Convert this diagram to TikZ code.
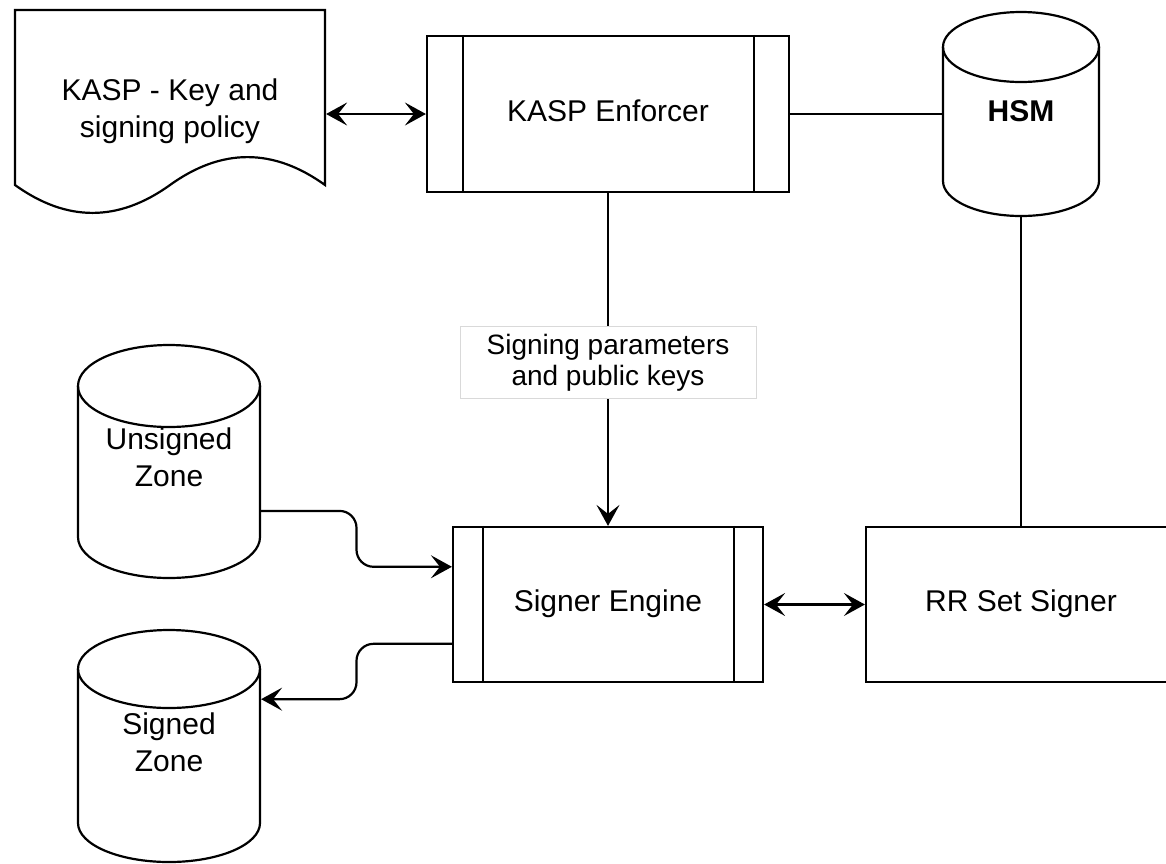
\documentclass[tikz,border=0pt]{standalone}
\usepackage{fontspec}
\setmainfont{Liberation Sans}
\usetikzlibrary{arrows.meta,calc}

% text sizes (1pt = one unit of the drawing)
\newcommand\mainsize{\fontsize{30pt}{37pt}\selectfont}
\newcommand\lblsize{\fontsize{28pt}{31pt}\selectfont}

% database cylinder: left, right, top, bottom, vertical radius of the caps
\newcommand\cylshape[5]{%
  \pgfmathsetmacro\cylrx{(#2-#1)/2}%
  \draw[fill=white] (#1,#3+#5) -- (#1,#4-#5)
    arc[start angle=180,end angle=0,x radius=\cylrx,y radius=#5]
    -- (#2,#3+#5)
    arc[start angle=0,end angle=-180,x radius=\cylrx,y radius=#5] -- cycle;
  \draw (#1,#3+#5) arc[start angle=180,end angle=0,x radius=\cylrx,y radius=#5];
}

\begin{document}
\begin{tikzpicture}[x=1pt,y=-1pt,line width=2.2pt,
  >={Stealth[length=21pt,width=23pt,inset=9pt]},
  box/.style={draw,rectangle,fill=white,inner sep=0pt,align=center,font=\mainsize,text depth=7pt},
  ghost/.style={rectangle,inner sep=0pt,align=center,font=\mainsize},
  lbl/.style={draw=black!15,line width=1pt,fill=white,inner sep=0pt,
    minimum width=296pt,minimum height=72pt,align=center,font=\lblsize},
  flow/.style={->,rounded corners=17pt}]

\useasboundingbox (0,0) rectangle (1166,863);
\clip (0,0) rectangle (1166,863);

% policy document with a wavy lower edge
\draw[fill=white] (15,10) -- (325,10) -- (325,185)
  .. controls (273.3,147.8) and (221.7,147.8) .. (170,185)
  .. controls (118.3,222.2) and (66.7,222.2) .. (15,185) -- cycle;
\node[ghost,minimum width=310pt,minimum height=196pt] (kasp) at (170,111)
  {KASP - Key and\\signing policy};

% enforcer process
\node[box,minimum width=362pt,minimum height=156pt] (enf) at (608,114) {KASP Enforcer};
\draw ([xshift=37pt]enf.north west) -- ([xshift=37pt]enf.south west);
\draw ([xshift=-36pt]enf.north east) -- ([xshift=-36pt]enf.south east);

% key store
\cylshape{943}{1099}{12}{216}{35}
\node[ghost,minimum width=156pt,minimum height=204pt,font=\mainsize\bfseries,text depth=6pt] (hsm)
  at (1021,114) {HSM};

% zone stores
\cylshape{78}{260}{345}{578}{41}
\node[ghost,minimum width=182pt,minimum height=233pt,text depth=8pt] (uz) at (169,461.5) {Unsigned\\Zone};
\cylshape{78}{260}{630}{862}{39}
\node[ghost,minimum width=182pt,minimum height=232pt,text depth=8pt] (sz) at (169,746) {Signed\\Zone};

% signer process
\node[box,minimum width=310pt,minimum height=155pt] (sig) at (608,604.5) {Signer Engine};
\draw ([xshift=31pt]sig.north west) -- ([xshift=31pt]sig.south west);
\draw ([xshift=-30pt]sig.north east) -- ([xshift=-30pt]sig.south east);

% RR set signer
\node[box,minimum width=310pt,minimum height=155pt] (rr) at (1021,604.5) {RR Set Signer};

% connectors
\draw[<->] (kasp.east |- enf.west) -- (enf.west);
\draw (enf.east) -- (hsm.west);
\draw (hsm.south) -- (rr.north);
\draw[->] (enf.south) -- node[lbl,pos=0.51] {Signing parameters\\and public keys} (sig.north);
\draw[<->] (sig.east) -- (rr.west);

\coordinate (u1) at ($(uz.north east)!0.71!(uz.south east)$);
\coordinate (u2) at ($(sig.north west)!0.26!(sig.south west)$);
\coordinate (um) at ($(u1)!0.5!(u2)$);
\draw[flow] (u1) -- (u1 -| um) -- (um |- u2) -- (u2);

\coordinate (s1) at ($(sig.north west)!0.75!(sig.south west)$);
\coordinate (s2) at ($(sz.north east)!0.30!(sz.south east)$);
\coordinate (sm) at ($(s1)!0.5!(s2)$);
\draw[flow] (s1) -- (s1 -| sm) -- (sm |- s2) -- (s2);
\end{tikzpicture}
\end{document}
